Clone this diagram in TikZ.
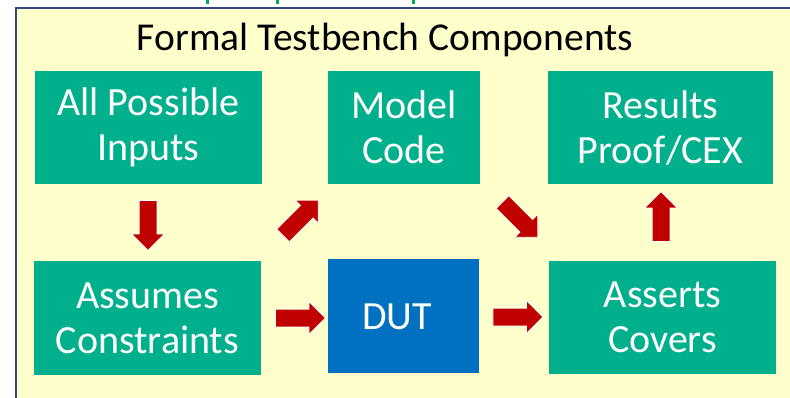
\documentclass[tikz,border=0pt]{standalone}
\usepackage{fontspec}
\setmainfont{Carlito}
\usetikzlibrary{shapes.arrows}
\definecolor{paper}{HTML}{FFFFCC}
\definecolor{framecol}{HTML}{2E4780}
\definecolor{teal}{HTML}{00B08C}
\definecolor{dutblue}{HTML}{0070C0}
\definecolor{arrowred}{HTML}{C00000}
\definecolor{tickgreen}{HTML}{00B050}
\tikzset{
  box/.style={fill=teal, text=white, align=center, inner sep=0pt,
    font=\fontsize{40}{45}\selectfont},
  dutbox/.style={fill=dutblue, text=white, align=center, inner sep=0pt,
    font=\fontsize{40}{45}\selectfont},
  barrow/.style={single arrow, fill=arrowred, draw=white, line width=0.8pt,
    inner xsep=0pt, inner ysep=8.5pt, single arrow head extend=7.5pt,
    single arrow tip angle=90, minimum height=50pt, anchor=center},
}
\begin{document}
\begin{tikzpicture}[x=1pt, y=-1pt]
\useasboundingbox (0,0) rectangle (790,398);
\begin{scope}
  \clip (0,0) rectangle (790,398);
  % slide panel
  \fill[paper] (16,8) rectangle (810,420);
  \draw[framecol, line width=2pt] (16,420) -- (16,8) -- (810,8);
  % stubs of the line above the panel
  \foreach \tx in {207,277,413}
    \draw[tickgreen, line width=3pt] (\tx,-2) -- (\tx,4);
\end{scope}

\node[font=\fontsize{39.5}{45}\selectfont, anchor=base] (title) at (385,51) {Formal Testbench Components};

% top row
\node[box, minimum width=227pt, minimum height=113pt] (inputs) at (148.5,127.5) {All Possible\\Inputs};
\node[box, minimum width=152pt, minimum height=113pt] (model) at (404,127.5) {Model\\Code};
\node[box, minimum width=225pt, minimum height=113pt] (results) at (660.5,127.5) {Results\\Proof/CEX};

% bottom row
\node[box, minimum width=227pt, minimum height=114pt] (assumes) at (147.5,318) {Assumes\\Constraints};
\node[dutbox, minimum width=151pt, minimum height=114pt] (dut) at (403.5,316) {};
\node[text=white, font=\fontsize{40}{45}\selectfont] (dutlabel) at (397,317) {DUT};
\node[box, minimum width=227pt, minimum height=113pt] (asserts) at (662.5,317.5) {Asserts\\Covers};

% block arrows
\node[barrow, rotate=-90] (a1) at (148,221) {};
\node[barrow, rotate=45] (a2) at (297.5,221) {};
\node[barrow, rotate=-45] (a3) at (517,216.5) {};
\node[barrow, rotate=0] (a4) at (296,318) {};
\node[barrow, rotate=0] (a5) at (513.5,317) {};
\node[barrow, rotate=90] (a6) at (661,221) {};
\end{tikzpicture}
\end{document}
